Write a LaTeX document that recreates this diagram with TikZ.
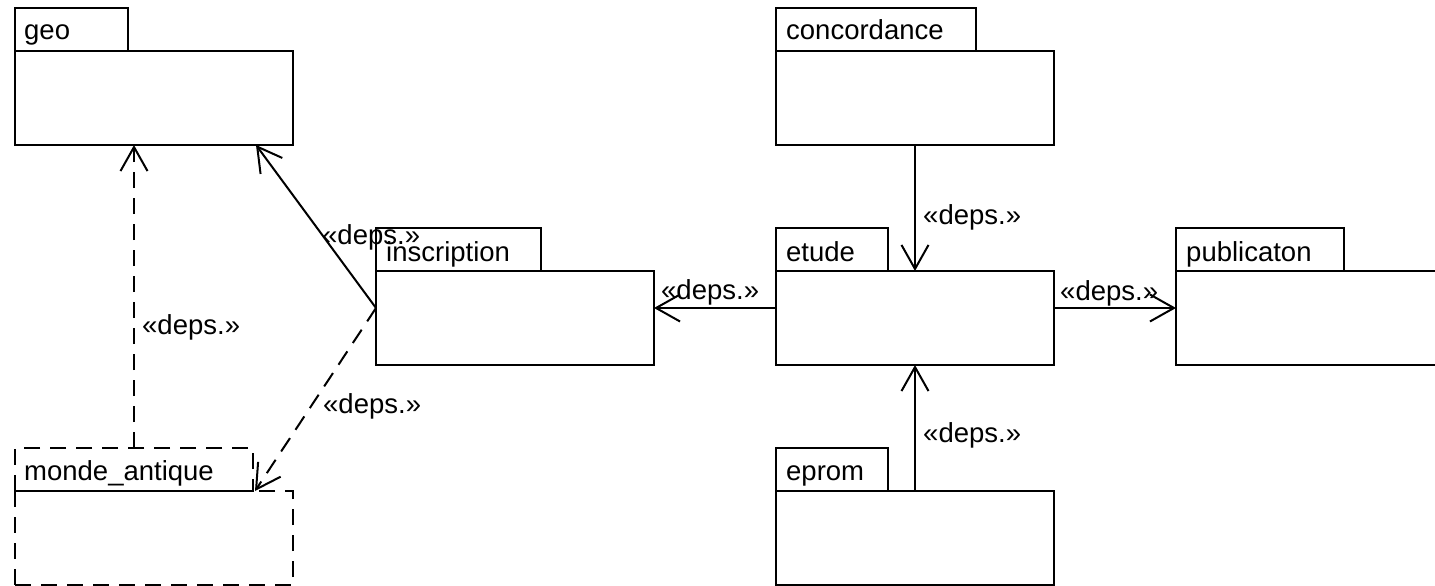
\documentclass[tikz,border=0pt]{standalone}
\usepackage{fontspec}
\setmainfont{Liberation Sans}
\usetikzlibrary{arrows.meta}
\begin{document}
\begin{tikzpicture}[x=1pt,y=-1pt,
  pkgline/.style={line width=2pt},
  pkgbody/.style={draw,pkgline,rectangle,inner sep=0pt,outer sep=0pt,anchor=north west,minimum width=278pt,minimum height=94pt},
  pkgtab/.style={draw,pkgline,rectangle,inner sep=0pt,outer sep=0pt,anchor=north west,minimum height=43pt},
  dashpkg/.style={dash pattern=on 16pt off 10pt},
  lbl/.style={anchor=base west,inner sep=0pt,font=\fontsize{27.5}{33}\selectfont},
  dep/.style={line width=2pt,-{Straight Barb[length=24pt,width=27pt]}},
  depdash/.style={dep,dash pattern=on 16pt off 10pt}
]
\useasboundingbox (0,0) rectangle (1435,586);
% geo
\node[pkgtab,minimum width=113pt] (geot) at (15,8) {};
\node[pkgbody] (geo) at (15,51) {};
\node[lbl] (geol) at (24,40) {geo};
% concordance
\node[pkgtab,minimum width=200pt] (conct) at (776,8) {};
\node[pkgbody] (conc) at (776,51) {};
\node[lbl] (concl) at (786,40) {concordance};
% inscription
\node[pkgtab,minimum width=165pt] (insct) at (376,228) {};
\node[pkgbody] (insc) at (376,271) {};
\node[lbl] (inscl) at (386,261) {inscription};
% etude
\node[pkgtab,minimum width=112pt] (etudet) at (776,228) {};
\node[pkgbody] (etude) at (776,271) {};
\node[lbl] (etudel) at (786,261) {etude};
% publicaton
\node[pkgtab,minimum width=168pt] (pubt) at (1176,228) {};
\node[pkgbody] (pub) at (1176,271) {};
\node[lbl] (publ) at (1186,261) {publicaton};
% monde_antique
\node[pkgtab,dashpkg,minimum width=238pt] (mondet) at (15,448) {};
\node[pkgbody,dashpkg] (monde) at (15,491) {};
\node[lbl] (mondel) at (24,480) {monde\_antique};
% eprom
\node[pkgtab,minimum width=112pt] (epromt) at (776,448) {};
\node[pkgbody] (eprom) at (776,491) {};
\node[lbl] (eproml) at (786,480) {eprom};
% connectors
\draw[dep] (conc.south) -- (etude.north);
\draw[dep] (eprom.north) -- (etude.south);
\draw[dep] ([yshift=10pt]etude.west) -- ([yshift=10pt]insc.east);
\draw[dep] ([yshift=10pt]etude.east) -- ([yshift=10pt]pub.west);
\draw[dep] ([yshift=10pt]insc.west) -- ([xshift=-37pt]geo.south east);
\draw[depdash] ([yshift=10pt]insc.west) -- ([xshift=2pt]mondet.south east);
\draw[depdash] (mondet.north) -- (mondet.north |- geo.south);
% labels
\node[lbl] (d1) at (923,224) {«deps.»};
\node[lbl] (d2) at (923,442) {«deps.»};
\node[lbl] (d3) at (661,299) {«deps.»};
\node[lbl] (d4) at (1060,300) {«deps.»};
\node[lbl] (d5) at (322,244) {«deps.»};
\node[lbl] (d6) at (323,413) {«deps.»};
\node[lbl] (d7) at (142,334) {«deps.»};
\end{tikzpicture}
\end{document}
